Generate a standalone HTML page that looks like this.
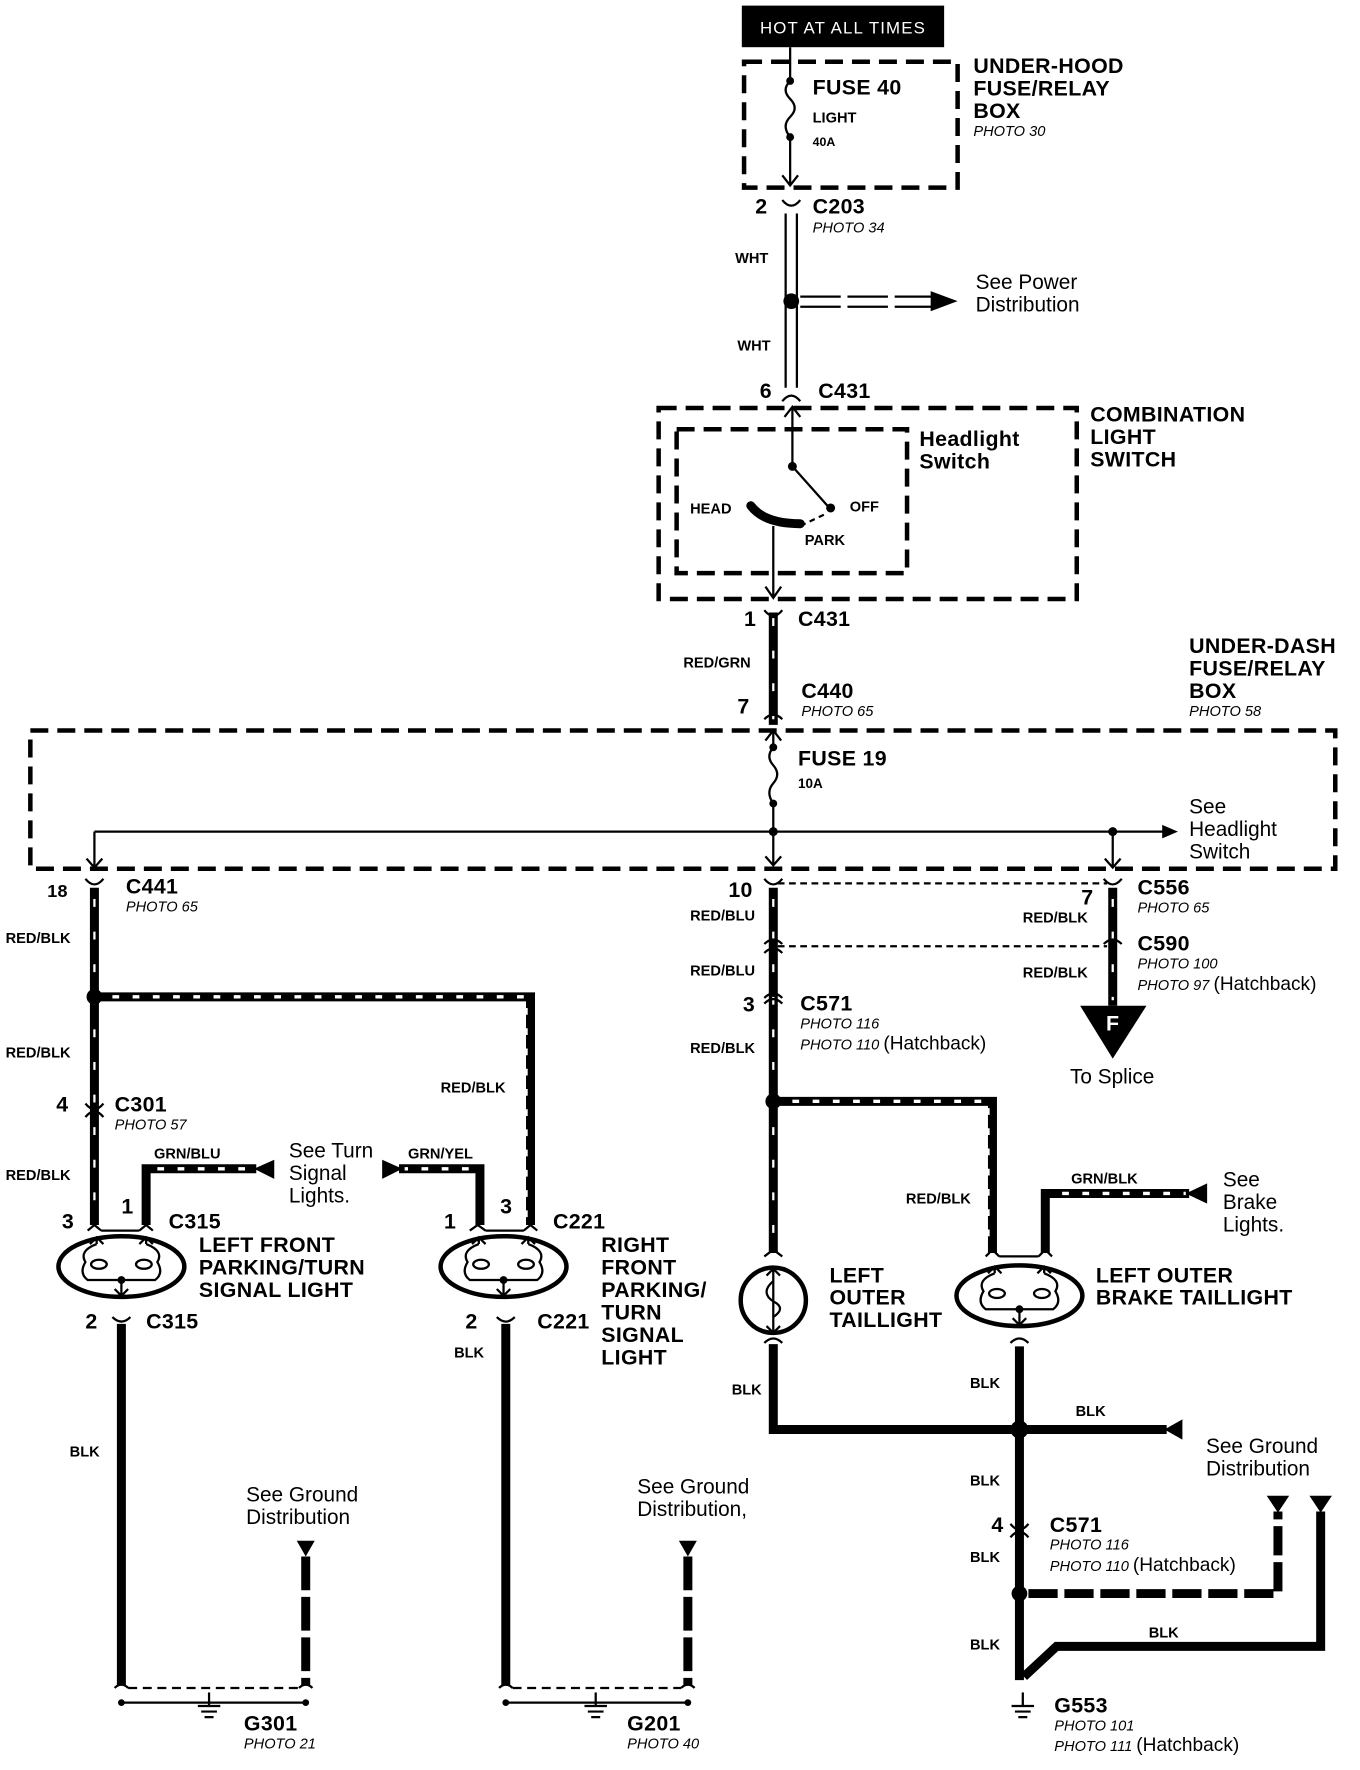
<!DOCTYPE html>
<html><head><meta charset="utf-8"><style>
html,body{margin:0;padding:0;background:#fff;}
svg{display:block;}
text{font-family:"Liberation Sans",Arial,sans-serif;fill:#000;}
.b{font-weight:bold;}
.i{font-style:italic;font-size:13px;}
.t{font-size:19px;font-weight:bold;letter-spacing:0.3px;}
.s{font-size:13px;font-weight:bold;}
.r{font-size:18.5px;}
.dash{fill:none;stroke:#000;stroke-width:4;stroke-dasharray:16 8;}
.thin{fill:none;stroke:#000;stroke-width:2;}
.w{fill:none;stroke:#000;stroke-width:8;}
.h{fill:none;stroke:#fff;stroke-width:2;stroke-dasharray:7 22;}
.hd{fill:none;stroke:#fff;stroke-width:3;stroke-dasharray:6 12;}
</style></head><body>
<svg width="1360" height="1770" viewBox="0 0 1210 1575" preserveAspectRatio="none" xmlns="http://www.w3.org/2000/svg">
<defs>
<g id="conD"><path d="M-8 -5 Q0 5 8 -5" class="thin" stroke-width="3"/></g>
<g id="lamp">
<ellipse cx="0" cy="0" rx="56" ry="27" fill="none" stroke="#000" stroke-width="4"/>
<path d="M-22 -20 L-22 -26 M-28 -20 L-22 -26 L-16 -20 M22 -20 L22 -26 M28 -20 L22 -26 L16 -20" class="thin"/>
<path d="M-22 -20 Q-38 -14 -32 -4 Q-38 6 -30 12 L30 12 Q38 6 32 -4 Q38 -14 22 -20" class="thin"/>
<ellipse cx="-20" cy="-2" rx="7" ry="4" class="thin"/><ellipse cx="20" cy="-2" rx="7" ry="4" class="thin"/>
<circle cx="0" cy="12" r="3.5"/><path d="M0 12 L0 26 M-6 20 L0 26 L6 20" class="thin"/>
</g>
<g id="gnd"><path d="M-10 0 H10 M-7 5 H7 M-4 10 H4" class="thin" stroke-width="3"/><path d="M0 -12 V0" class="thin"/></g>
</defs>

<!-- top -->
<rect x="660" y="5" width="180" height="37" fill="#000"/>
<text x="750" y="30" text-anchor="middle" font-size="15" style="fill:#fff;letter-spacing:1px">HOT AT ALL TIMES</text>
<rect x="662" y="55" width="190" height="112" class="dash"/>
<path d="M703 42 V72 M703 122 V165 M696 156 L703 165 L710 156" class="thin"/>
<path d="M703 72 q-8 8 0 16 q8 8 0 16 q-8 8 0 18" class="thin"/>
<circle cx="703" cy="72" r="3.5"/><circle cx="703" cy="122" r="3.5"/>
<text x="723" y="84" class="t">FUSE 40</text>
<text x="723" y="109" class="s">LIGHT</text>
<text x="723" y="130" class="b" font-size="11">40A</text>
<text x="866" y="65" class="t">UNDER-HOOD</text><text x="866" y="85" class="t">FUSE/RELAY</text><text x="866" y="105" class="t">BOX</text>
<text x="866" y="121" class="i">PHOTO 30</text>

<use href="#conD" x="704" y="183"/>
<text x="672" y="190" class="t">2</text><text x="723" y="190" class="t">C203</text><text x="723" y="207" class="i">PHOTO 34</text>
<path d="M699 190 V345 M709 190 V345" class="thin" stroke-width="3"/>
<rect x="700" y="262" width="8" height="12" fill="#fff"/>
<circle cx="704" cy="268" r="7"/>
<path d="M712 264 H830 M712 273 H830" class="thin" stroke-width="3" stroke-dasharray="36 6"/>
<path d="M828 259 L852 268 L828 277 Z"/>
<text x="868" y="257" class="r">See Power</text><text x="868" y="277" class="r">Distribution</text>
<text x="654" y="234" class="s">WHT</text><text x="656" y="312" class="s">WHT</text>
<path d="M696 357 Q704 347 712 357" class="thin" stroke-width="3"/>
<text x="676" y="354" class="t">6</text><text x="728" y="354" class="t">C431</text>

<!-- combination switch -->
<rect x="586" y="363" width="372" height="170" class="dash"/>
<rect x="602" y="382" width="205" height="128" class="dash"/>
<text x="818" y="397" class="t">Headlight</text><text x="818" y="417" class="t">Switch</text>
<text x="970" y="375" class="t">COMBINATION</text><text x="970" y="395" class="t">LIGHT</text><text x="970" y="415" class="t">SWITCH</text>
<path d="M705 362 V415 M698 371 L705 362 L712 371" class="thin"/>
<circle cx="705" cy="415" r="4"/>
<path d="M705 415 L738 452" class="thin" stroke-width="3"/>
<circle cx="739" cy="452" r="4"/>
<path d="M733 458 L712 468" class="thin" stroke-dasharray="5 4"/>
<path d="M668 450 Q680 466 712 466" fill="none" stroke="#000" stroke-width="8" stroke-linecap="round"/>
<text x="614" y="457" class="s">HEAD</text><text x="756" y="455" class="s">OFF</text><text x="716" y="485" class="s">PARK</text>
<path d="M688 468 V532 M681 522 L688 532 L695 522" class="thin"/>

<!-- RED/GRN -->
<path d="M688 545 V645" class="w"/><path d="M688 550 V640" class="h"/>
<use href="#conD" x="688" y="548"/>
<path d="M680 640 Q688 632 696 640" class="thin" stroke-width="3"/>
<text x="662" y="557" class="t">1</text><text x="710" y="557" class="t">C431</text>
<text x="608" y="594" class="s">RED/GRN</text>
<text x="713" y="621" class="t">C440</text><text x="713" y="637" class="i">PHOTO 65</text>
<text x="656" y="635" class="t">7</text>
<text x="1058" y="581" class="t">UNDER-DASH</text><text x="1058" y="601" class="t">FUSE/RELAY</text><text x="1058" y="621" class="t">BOX</text>
<text x="1058" y="637" class="i">PHOTO 58</text>

<!-- underdash box -->
<rect x="27" y="650" width="1161" height="123" class="dash"/>
<path d="M688 650 V665 M688 715 V770 M681 762 L688 770 L695 762" class="thin"/>
<path d="M681 659 L688 650 L695 659" class="thin"/>
<path d="M688 665 q-7 8 0 16 q7 8 0 16 q-7 8 0 18" class="thin"/>
<circle cx="688" cy="665" r="3.5"/><circle cx="688" cy="715" r="3.5"/>
<text x="710" y="681" class="t">FUSE 19</text><text x="710" y="701" class="b" font-size="12">10A</text>
<path d="M84 740 H1035" class="thin"/><path d="M1034 734 L1048 740 L1034 746 Z"/>
<circle cx="688" cy="740" r="4"/><circle cx="990" cy="740" r="4"/>
<path d="M84 740 V772 M77 764 L84 772 L91 764 M990 740 V772 M983 764 L990 772 L997 764" class="thin"/>
<text x="1058" y="724" class="r">See</text><text x="1058" y="744" class="r">Headlight</text><text x="1058" y="764" class="r">Switch</text>

<!-- left branch -->
<use href="#conD" x="84" y="787"/>
<text x="42" y="798" class="t" style="font-size:16px">18</text><text x="112" y="795" class="t">C441</text><text x="112" y="811" class="i">PHOTO 65</text>
<path d="M84 790 V1090" class="w"/><path d="M84 800 V1085" class="h"/>
<circle cx="84" cy="887" r="7"/>
<path d="M84 887 H472 V1090" class="w"/><path d="M100 887 H468 V1085" class="hd"/>
<text x="5" y="839" class="s">RED/BLK</text><text x="5" y="941" class="s">RED/BLK</text><text x="5" y="1050" class="s">RED/BLK</text>
<text x="392" y="972" class="s">RED/BLK</text>
<path d="M76 982 Q84 992 92 982 M76 994 Q84 984 92 994" class="thin" stroke-width="3"/>
<text x="50" y="989" class="t">4</text><text x="102" y="989" class="t">C301</text><text x="102" y="1005" class="i">PHOTO 57</text>
<path d="M130 1090 V1040 H228" class="w"/><path d="M140 1040 H225" class="hd"/>
<path d="M226 1040 L244 1032 L244 1049 Z"/>
<text x="137" y="1031" class="s">GRN/BLU</text>
<text x="257" y="1030" class="r">See Turn</text><text x="257" y="1050" class="r">Signal</text><text x="257" y="1070" class="r">Lights.</text>
<path d="M427 1090 V1040 H355" class="w"/><path d="M417 1040 H360" class="hd"/>
<path d="M358 1040 L340 1032 L340 1049 Z"/>
<text x="363" y="1031" class="s">GRN/YEL</text>
<path d="M78 1095 L84 1090 L90 1095 M124 1095 L130 1090 L136 1095 M90 1095 H124 M418 1095 L425 1090 L432 1095 M466 1095 L472 1090 L478 1095 M432 1095 H466" class="thin" stroke-width="3"/>
<text x="55" y="1093" class="t">3</text><text x="108" y="1080" class="t">1</text><text x="150" y="1093" class="t">C315</text>
<text x="395" y="1093" class="t">1</text><text x="445" y="1080" class="t">3</text><text x="492" y="1093" class="t">C221</text>
<use href="#lamp" x="108" y="1127"/><use href="#lamp" x="448" y="1127"/>
<text x="177" y="1114" class="t">LEFT FRONT</text><text x="177" y="1134" class="t">PARKING/TURN</text><text x="177" y="1154" class="t">SIGNAL LIGHT</text>
<text x="535" y="1114" class="t">RIGHT</text><text x="535" y="1134" class="t">FRONT</text><text x="535" y="1154" class="t">PARKING/</text><text x="535" y="1174" class="t">TURN</text><text x="535" y="1194" class="t">SIGNAL</text><text x="535" y="1214" class="t">LIGHT</text>
<path d="M100 1172 Q108 1180 116 1172 M442 1172 Q450 1180 458 1172" class="thin" stroke-width="3"/>
<text x="76" y="1182" class="t">2</text><text x="130" y="1182" class="t">C315</text>
<text x="414" y="1182" class="t">2</text><text x="478" y="1182" class="t">C221</text>
<text x="404" y="1208" class="s">BLK</text><text x="62" y="1296" class="s">BLK</text>
<path d="M108 1178 V1500 M450 1178 V1500" class="w"/>
<path d="M272 1385 V1500 M612 1385 V1500" class="w" stroke-dasharray="30 6"/>
<path d="M264 1371 H280 L272 1385 Z M604 1371 H620 L612 1385 Z"/>
<text x="219" y="1336" class="r">See Ground</text><text x="219" y="1356" class="r">Distribution</text>
<text x="567" y="1329" class="r">See Ground</text><text x="567" y="1349" class="r">Distribution,</text>
<path d="M102 1502 Q108 1496 114 1502 M266 1502 Q272 1496 278 1502 M444 1502 Q450 1496 456 1502 M606 1502 Q612 1496 618 1502" class="thin" stroke-width="3"/>
<path d="M114 1502 H266 M456 1502 H606" class="thin" stroke-dasharray="8 5"/>
<path d="M108 1515 H272 M450 1515 H612" class="thin"/>
<circle cx="108" cy="1515" r="3"/><circle cx="272" cy="1515" r="3"/><circle cx="450" cy="1515" r="3"/><circle cx="612" cy="1515" r="3"/>
<use href="#gnd" x="186" y="1518"/><use href="#gnd" x="530" y="1518"/>
<text x="217" y="1540" class="t">G301</text><text x="217" y="1556" class="i">PHOTO 21</text>
<text x="558" y="1540" class="t">G201</text><text x="558" y="1556" class="i">PHOTO 40</text>

<!-- center branch -->
<use href="#conD" x="688" y="787"/><use href="#conD" x="990" y="787"/>
<path d="M692 786 H985 M692 842 H985" class="thin" stroke-dasharray="6 4"/>
<path d="M688 790 V1115" class="w"/><path d="M688 800 V1110" class="h"/>
<path d="M680 840 Q688 832 696 840 M680 848 Q688 840 696 848 M680 888 Q688 880 696 888 M680 893 Q688 885 696 893" class="thin" stroke-width="3"/>
<text x="648" y="798" class="t">10</text>
<text x="614" y="819" class="s">RED/BLU</text><text x="614" y="868" class="s">RED/BLU</text>
<text x="661" y="900" class="t">3</text><text x="712" y="899" class="t">C571</text>
<text x="712" y="915" class="i">PHOTO 116</text><text x="712" y="934" class="i">PHOTO 110 <tspan font-style="normal" font-size="17">(Hatchback)</tspan></text>
<text x="614" y="937" class="s">RED/BLK</text>
<circle cx="688" cy="980" r="7"/>
<path d="M688 980 H883 V1115" class="w"/><path d="M705 980 H879 V1110" class="hd"/>
<text x="806" y="1071" class="s">RED/BLK</text>
<path d="M990 790 V895" class="w"/><path d="M990 800 V890" class="h"/>
<path d="M982 840 Q990 832 998 840" class="thin" stroke-width="3"/>
<path d="M961 895 H1020 L990 942 Z"/>
<text x="990" y="917" text-anchor="middle" class="t" style="fill:#fff">F</text>
<text x="962" y="805" class="t">7</text><text x="1012" y="796" class="t">C556</text><text x="1012" y="812" class="i">PHOTO 65</text>
<text x="910" y="821" class="s">RED/BLK</text><text x="1012" y="846" class="t">C590</text>
<text x="1012" y="862" class="i">PHOTO 100</text><text x="1012" y="881" class="i">PHOTO 97 <tspan font-style="normal" font-size="17">(Hatchback)</tspan></text>
<text x="910" y="870" class="s">RED/BLK</text>
<text x="952" y="964" class="r">To Splice</text>

<path d="M930 1115 V1062 H1058" class="w"/><path d="M945 1062 H1055" class="hd"/>
<path d="M1055 1062 L1074 1053 L1074 1071 Z"/>
<text x="953" y="1053" class="s">GRN/BLK</text>
<text x="1088" y="1056" class="r">See</text><text x="1088" y="1076" class="r">Brake</text><text x="1088" y="1096" class="r">Lights.</text>
<path d="M680 1118 L688 1112 L696 1118 M877 1118 L883 1112 L889 1118 M924 1118 L930 1112 L936 1118 M889 1118 H924" class="thin" stroke-width="3"/>
<circle cx="688" cy="1157" r="29" fill="none" stroke="#000" stroke-width="4"/>
<path d="M688 1130 V1185 M682 1135 L688 1129 L694 1135 M682 1180 L688 1186 L694 1180" class="thin"/>
<path d="M688 1140 Q676 1150 688 1158 Q700 1164 688 1172" class="thin"/>
<use href="#lamp" x="907" y="1153"/>
<text x="738" y="1141" class="t">LEFT</text><text x="738" y="1161" class="t">OUTER</text><text x="738" y="1181" class="t">TAILLIGHT</text>
<text x="975" y="1141" class="t">LEFT OUTER</text><text x="975" y="1161" class="t">BRAKE TAILLIGHT</text>
<path d="M680 1195 Q688 1187 696 1195 M899 1195 Q907 1187 915 1195" class="thin" stroke-width="3"/>
<path d="M688 1196 V1272 H1038 M907 1198 V1495" class="w"/>
<path d="M1036 1272 L1052 1263 L1052 1281 Z"/>
<circle cx="907" cy="1272" r="8"/>
<text x="651" y="1241" class="s">BLK</text><text x="863" y="1235" class="s">BLK</text><text x="957" y="1260" class="s">BLK</text>
<text x="863" y="1322" class="s">BLK</text><text x="863" y="1390" class="s">BLK</text><text x="863" y="1468" class="s">BLK</text>
<path d="M899 1356 Q907 1366 915 1356 M899 1368 Q907 1358 915 1368" class="thin" stroke-width="3"/>
<text x="882" y="1363" class="t">4</text><text x="934" y="1363" class="t">C571</text>
<text x="934" y="1379" class="i">PHOTO 116</text><text x="934" y="1398" class="i">PHOTO 110 <tspan font-style="normal" font-size="17">(Hatchback)</tspan></text>
<text x="1073" y="1293" class="r">See Ground</text><text x="1073" y="1313" class="r">Distribution</text>
<circle cx="907" cy="1418" r="7"/>
<path d="M915 1418 H1137 V1345" class="w" stroke-dasharray="26 6"/>
<path d="M911 1492 L940 1465 H1175 V1345" class="w"/>
<path d="M1127 1331 H1147 L1137 1346 Z M1165 1331 H1185 L1175 1346 Z"/>
<text x="1022" y="1457" class="s">BLK</text>
<use href="#gnd" x="910" y="1518"/>
<text x="938" y="1524" class="t">G553</text><text x="938" y="1540" class="i">PHOTO 101</text>
<text x="938" y="1558" class="i">PHOTO 111 <tspan font-style="normal" font-size="17">(Hatchback)</tspan></text>
</svg>
</body></html>
